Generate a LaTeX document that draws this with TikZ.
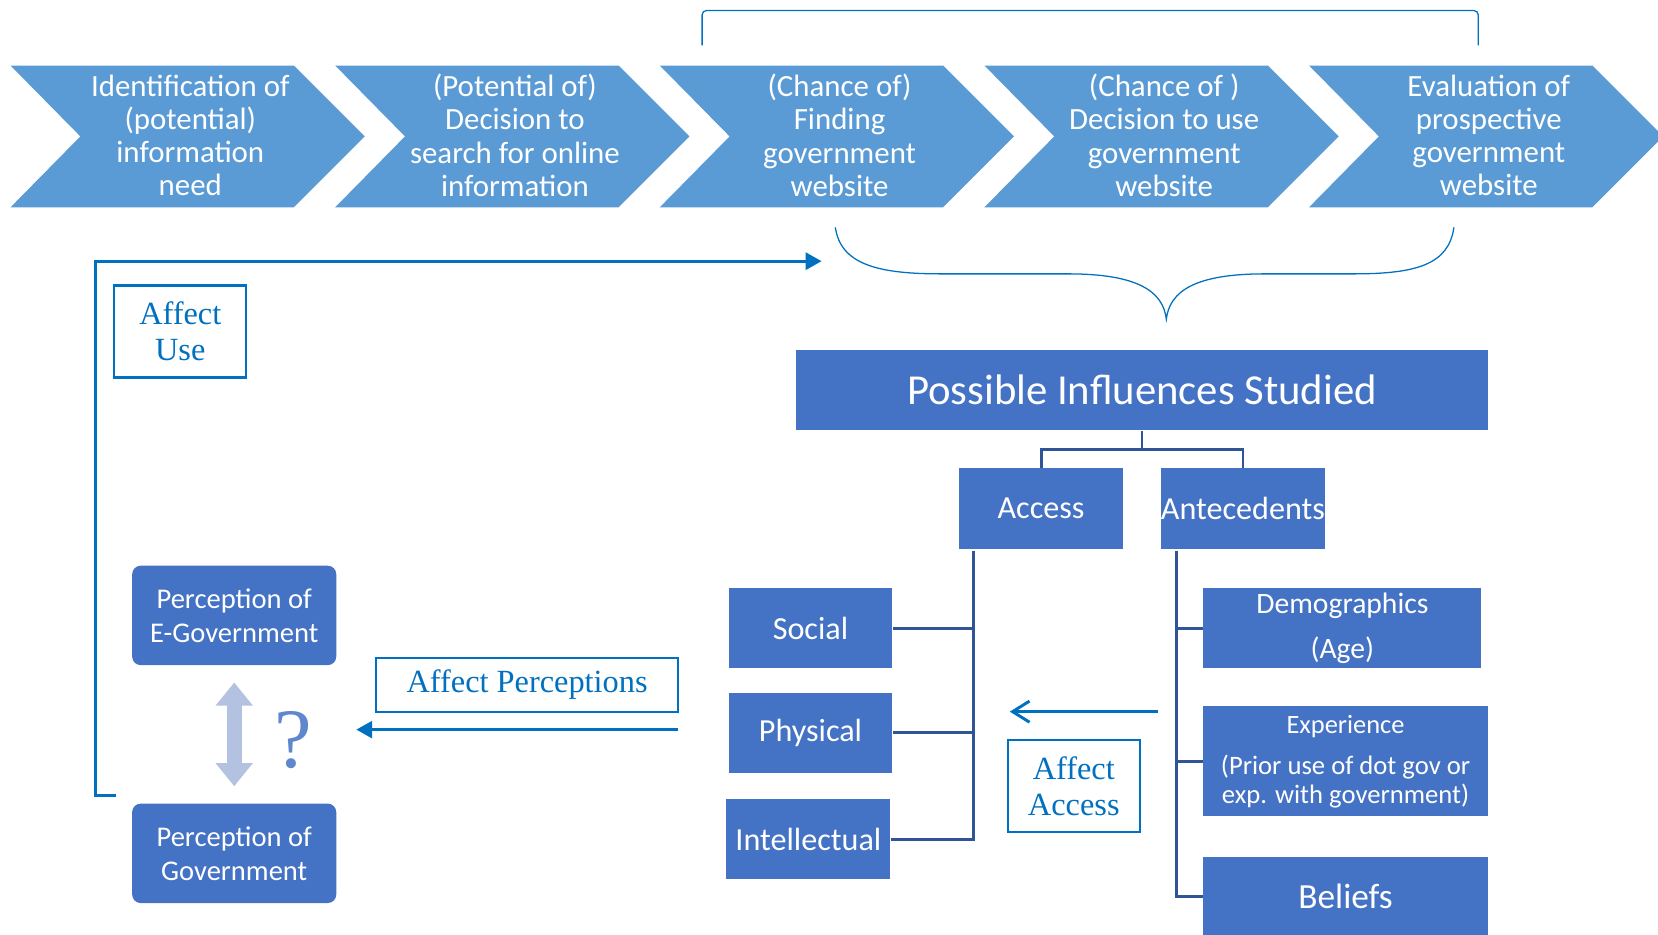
\documentclass[tikz,border=0pt]{standalone}
\usepackage{fontspec}
\setmainfont{Carlito}
\newfontfamily\seriffont{Liberation Serif}
\usetikzlibrary{arrows.meta}
\definecolor{chevblue}{HTML}{5B9BD5}
\definecolor{boxblue}{HTML}{4472C4}
\definecolor{linkblue}{HTML}{2F5597}
\definecolor{arrowblue}{HTML}{0070C0}
\definecolor{paleblue}{HTML}{B4C2E2}

\begin{document}
\begin{tikzpicture}
            [x=0.5pt, y=-0.5pt,
             every node/.style={inner sep=0pt},
             chevtext/.style={text=white, align=center, font=\fontsize{14.6}{15.7}\selectfont},
             box/.style={fill=boxblue, text=white, align=center, font=\fontsize{15.2}{17}\selectfont},
             roundbox/.style={box, rounded corners=4pt, minimum width=96.5pt, minimum height=47pt, font=\fontsize{13.5}{16}\selectfont},
             labelbox/.style={draw=arrowblue, line width=1pt, fill=white, text=arrowblue, align=center, font=\seriffont\fontsize{15.3}{17}\selectfont},
             conn/.style={draw=linkblue, line width=1.4pt},
             flow/.style={draw=arrowblue, line width=1.4pt, -{Triangle[length=7.5pt, width=8pt]}},
             thin/.style={draw=arrowblue, line width=0.6pt}]
                \useasboundingbox (0,0) rectangle (1568,884);
                % chevrons of the process
                \foreach \i/\txt in {0/{Identification of\\(potential)\\information\\need},
                                     1/{(Potential of)\\Decision to\\search for online\\information},
                                     2/{(Chance of)\\Finding\\government\\website},
                                     3/{(Chance of )\\Decision to use\\government\\website},
                                     4/{Evaluation of\\prospective\\government\\website}} {
                    \pgfmathsetmacro{\l}{10+307*\i}
                    \fill[chevblue] (\l,62) -- ({\l+268},62) -- ({\l+335},129) -- ({\l+268},196) -- (\l,196) -- ({\l+66},129) -- cycle;
                    \node (chev\i) [chevtext] at ({\l+170},128) {\txt};
                }
                % bracket and brace
                \draw [thin, rounded corners=2pt] (664,43) -- (664,10) -- (1398,10) -- (1398,43);
                \draw [thin] (790,215) .. controls (795,250) and (830,259) .. (890,259) -- (1010,259)
                    .. controls (1075,259) and (1100,275) .. (1103,302)
                    .. controls (1106,275) and (1131,259) .. (1196,259) -- (1280,259)
                    .. controls (1340,259) and (1370,250) .. (1375,215);
                % boxes
                \node (infl) [box, minimum width=327pt, minimum height=38pt, font=\fontsize{20.2}{23}\selectfont] at (1080,369) {Possible Influences Studied};
                \node (access) [box, minimum width=77.5pt, minimum height=38pt] at (984.5,481) {Access};
                \node (ante) [box, minimum width=77.5pt, minimum height=38pt] at (1175.5,481) {Antecedents};
                \node (social) [box, minimum width=77.5pt, minimum height=38pt] at (766.5,594) {Social};
                \node (phys) [box, minimum width=77.5pt, minimum height=38pt] at (766.5,693) {Physical};
                \node (intel) [box, minimum width=77.5pt, minimum height=38pt] at (764.5,793.5) {Intellectual};
                \node (demo) [box, minimum width=131.5pt, minimum height=38pt, font=\fontsize{14}{15}\selectfont] at (1269.5,594) {Demographics\\[6pt](Age)};
                \node (exper) [box, minimum width=134.5pt, minimum height=52pt, font=\fontsize{12.6}{13.6}\selectfont] at (1272.5,720) {{\fontsize{12.5}{13.6}\selectfont Experience}\\[6pt](Prior use of dot gov or\\exp. with government)};
                \node (beliefs) [box, minimum width=134.5pt, minimum height=38pt, font=\fontsize{16.7}{19}\selectfont] at (1272.5,848) {Beliefs};
                \node (egov) [roundbox] at (221.5,582) {Perception of\\E-Government};
                \node (gov) [roundbox] at (221.5,807) {Perception of\\Government};
                \node (usebox) [labelbox, minimum width=62.5pt, minimum height=43.5pt] at (170.5,313.5) {Affect\\Use};
                \node (percbox) [labelbox, minimum width=142.5pt, minimum height=25.5pt] at (498.5,647.5) {Affect Perceptions};
                \node (accbox) [labelbox, minimum width=62.5pt, minimum height=43.5pt] at (1015.5,743.5) {Affect\\Access};
                \node (q) [text=boxblue!85, font=\seriffont\fontsize{40}{42}\selectfont] at (277,700) {?};
                % tree connectors
                \draw [conn] (infl.south) -- ++(0,18) coordinate (hub);
                \draw [conn] (access.north) |- (hub) -| (ante.north);
                \coordinate (acctop) at (921,521);
                \coordinate (anttop) at (1113,521);
                \draw [conn] (acctop) |- (intel.east);
                \draw [conn] (social.east) -- (social.east -| acctop);
                \draw [conn] (phys.east) -- (phys.east -| acctop);
                \draw [conn] (anttop) |- (beliefs.west);
                \draw [conn] (demo.west) -- (demo.west -| anttop);
                \draw [conn] (exper.west) -- (exper.west -| anttop);
                % influence arrows
                \coordinate (loopstart) at (110,752);
                \coordinate (loopend) at (777,247);
                \draw [flow] (loopstart) -- ++(-20,0) |- (loopend);
                \coordinate (percfrom) at (641,690);
                \coordinate (percto) at (337,690);
                \draw [flow] (percfrom) -- (percto);
                \coordinate (accfrom) at (1095,673);
                \coordinate (accto) at (955,673);
                \draw [draw=arrowblue, line width=1.4pt, -{Straight Barb[length=8pt, width=10pt]}] (accfrom) -- (accto);
                \draw [draw=paleblue, line width=7pt, {Triangle[length=11pt, width=17pt]}-{Triangle[length=11pt, width=17pt]}] ([yshift=-8pt]egov.south) -- ([yshift=8pt]gov.north);
            \end{tikzpicture}
\end{document}
